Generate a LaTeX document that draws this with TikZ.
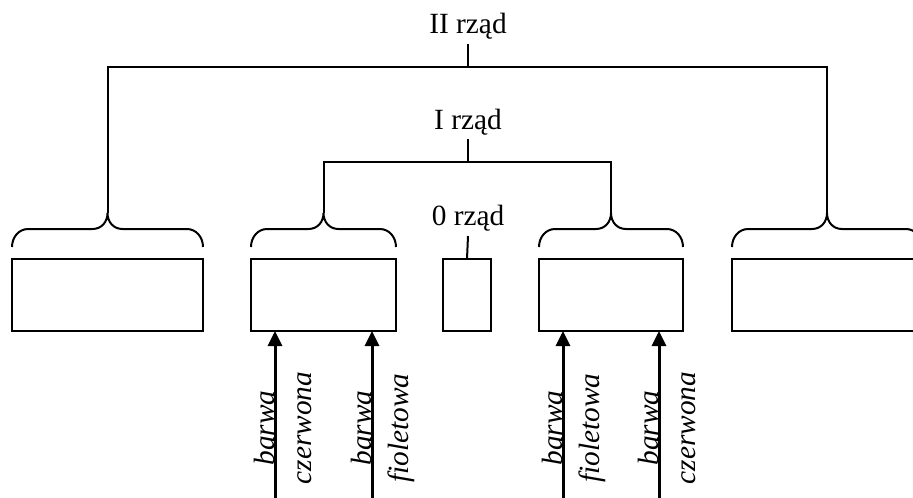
\documentclass[tikz,border=0pt]{standalone}
\usepackage{fontspec}
\setmainfont{Liberation Serif}[ItalicFont={Liberation Serif Italic}]
\usetikzlibrary{arrows.meta,fit}
\begin{document}
\begin{tikzpicture}[x=0.75pt,y=-0.75pt,
  line width=1.5pt,
  boxst/.style={draw, line width=1.5pt, inner sep=0pt, outer sep=0pt},
  lbl/.style={font=\fontsize{22}{26}\selectfont, anchor=base},
  vlbl/.style={font=\fontsize{22}{26}\selectfont\itshape, anchor=base, rotate=90, inner sep=0pt},
  arr/.style={line width=2.25pt, -{Triangle[width=10.5pt,length=11.25pt]}},
  bracest/.style={line width=1.5pt}]
\clip (0,0) rectangle (913,497);
\fill[white] (0,0) rectangle (913,497);
% boxes
\node[boxst, fit={(12,259) (203,331)}] (b1) {};
\node[boxst, fit={(251,259) (396,331)}] (b2) {};
\node[boxst, fit={(443,259) (491,331)}] (b3) {};
\node[boxst, fit={(539,259) (683,331)}] (b4) {};
\node[boxst, fit={(732,259) (922,331)}] (b5) {};
% braces
\foreach \l/\r/\n in {12/203/b1, 251/396/b2, 539/683/b4, 732/922/b5}{
  \pgfmathsetmacro\c{(\l+\r)/2}
  \coordinate (\n tip) at (\c,213);
  \draw[bracest] (\l,247) .. controls (\l,237) and (\l+7,229) .. (\l+16,229)
    -- (\c-15,229) .. controls (\c-6,229) and (\c,222) .. (\n tip)
    .. controls (\c,222) and (\c+6,229) .. (\c+15,229)
    -- (\r-16,229) .. controls (\r-7,229) and (\r,237) .. (\r,247);
}
% order labels
\node[lbl] (t2) at (468,33) {II rząd};
\node[lbl] (t1) at (468,129) {I rząd};
\node[lbl] (t0) at (468,225) {0 rząd};
\coordinate (j2) at (468,67);
\coordinate (j1) at (468,162);
\draw (t2.base) ++(0,11) -- (j2);
\draw (b1tip) |- (j2) -| (b5tip);
\draw (t1.base) ++(0,10) -- (j1);
\draw (b2tip) |- (j1) -| (b4tip);
\draw (t0.base) ++(0,11) -- (b3.north);
% arrows
\coordinate (s1) at (275,500);
\coordinate (s2) at (372,500);
\coordinate (s3) at (563,500);
\coordinate (s4) at (659,500);
\draw[arr] (s1) -- (s1 |- b2.south);
\draw[arr] (s2) -- (s2 |- b2.south);
\draw[arr] (s3) -- (s3 |- b4.south);
\draw[arr] (s4) -- (s4 |- b4.south);
% arrow labels
\node[vlbl] (l1a) at (274,428) {barwa};
\node[vlbl] (l1b) at (311.5,428) {czerwona};
\node[vlbl] (l2a) at (371,428) {barwa};
\node[vlbl] (l2b) at (408.5,428) {fioletowa};
\node[vlbl] (l3a) at (562,428) {barwa};
\node[vlbl] (l3b) at (599.5,428) {fioletowa};
\node[vlbl] (l4a) at (658,428) {barwa};
\node[vlbl] (l4b) at (695.5,428) {czerwona};
\end{tikzpicture}
\end{document}
